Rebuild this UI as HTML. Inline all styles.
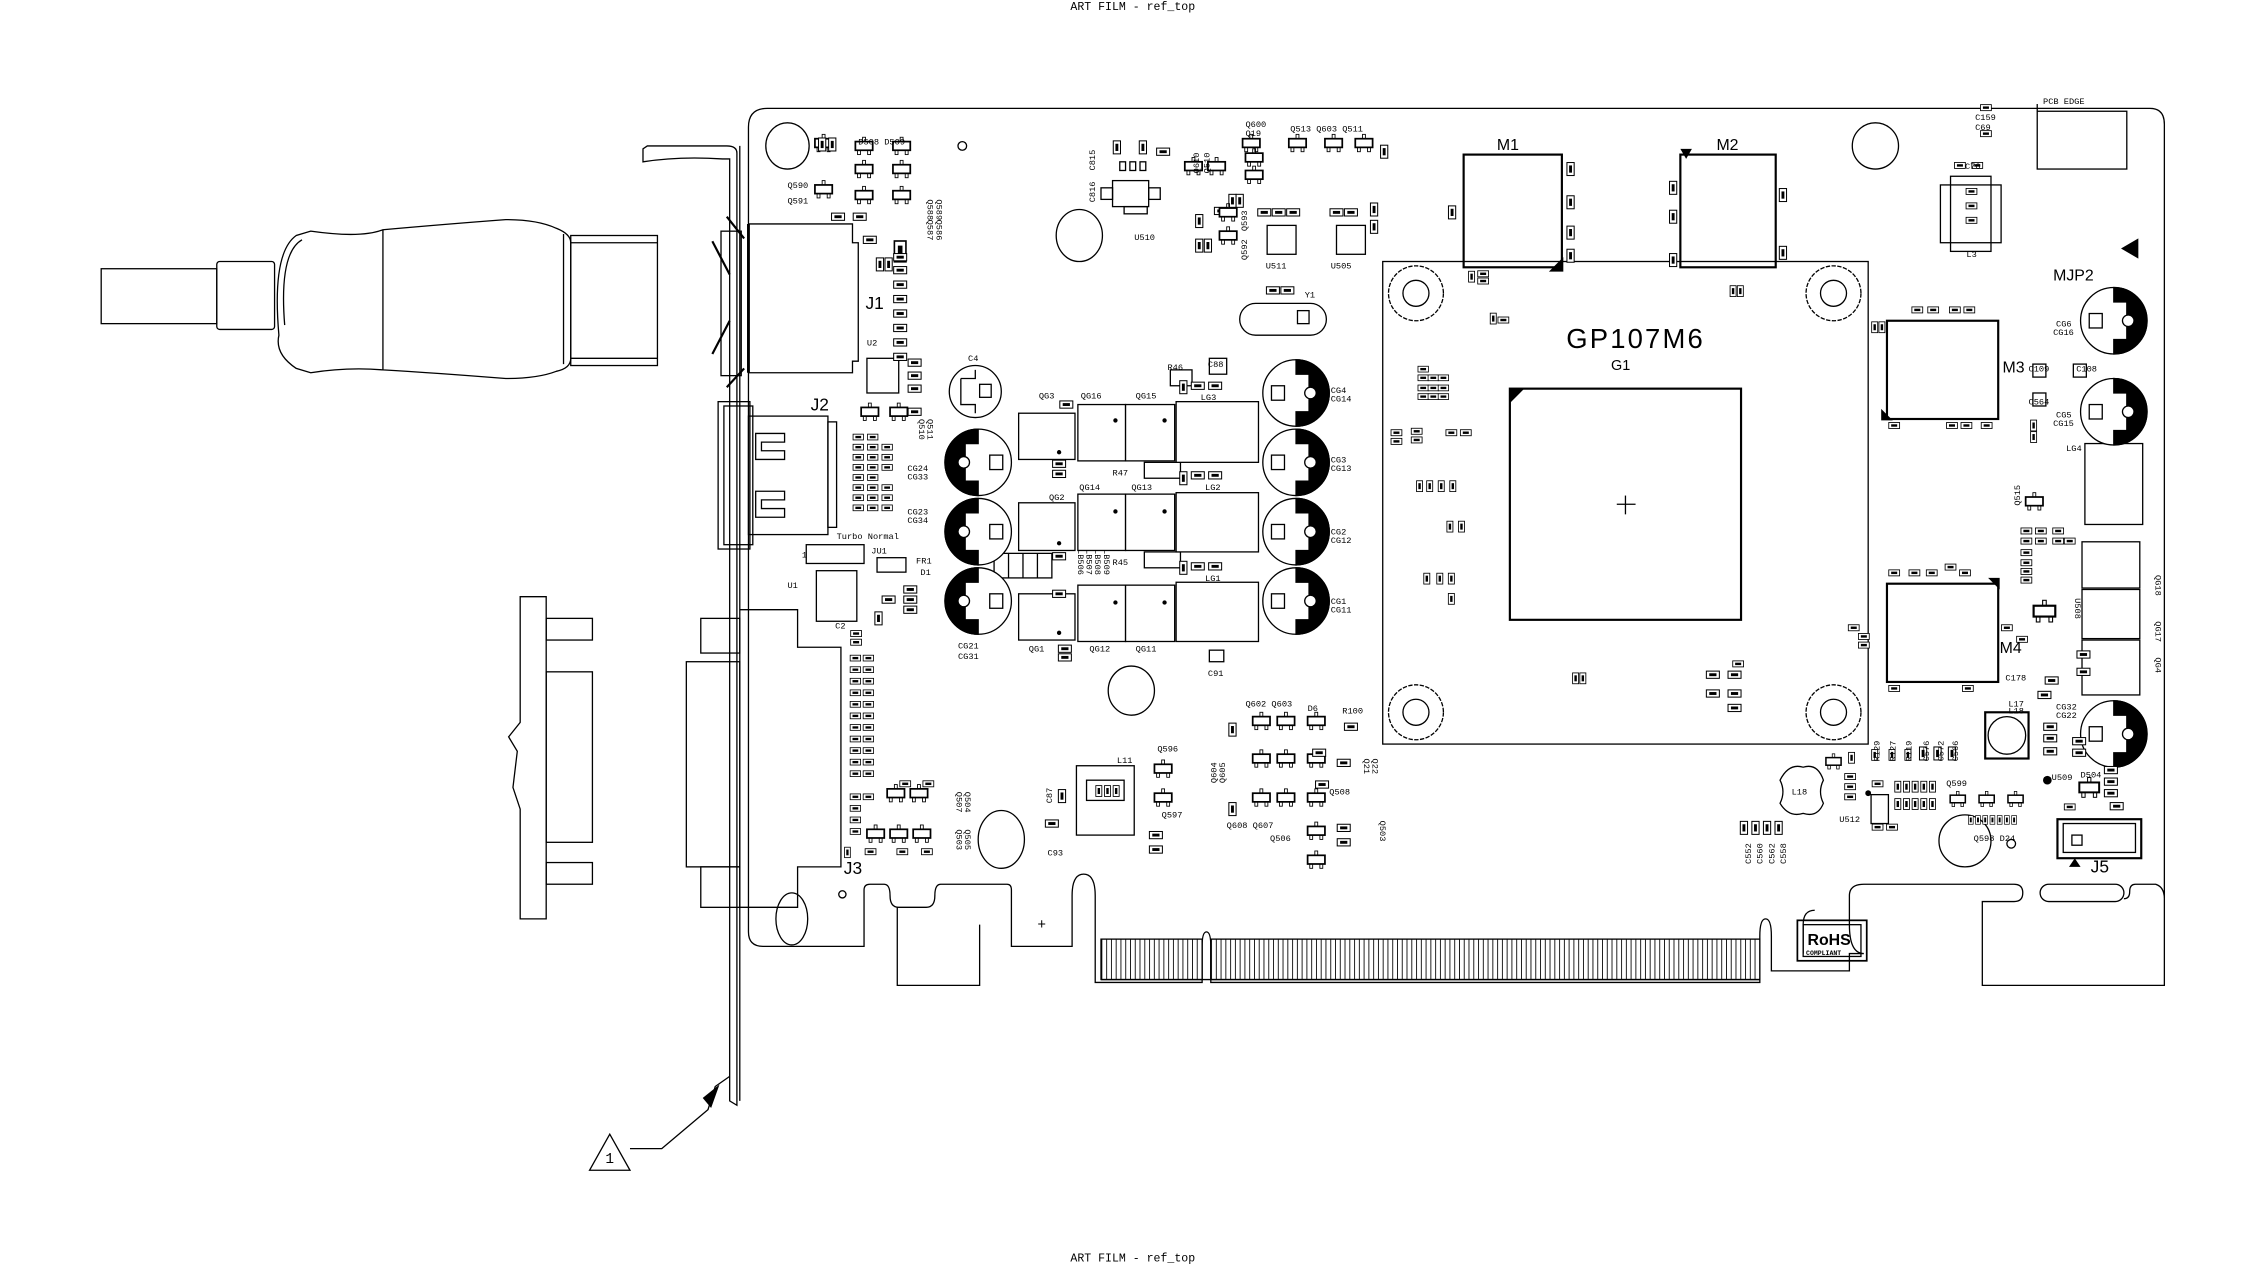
<!DOCTYPE html>
<html><head><meta charset="utf-8"><style>
html,body{margin:0;padding:0;background:#fff;}
svg{display:block}
text{font-family:"Liberation Mono","DejaVu Sans Mono",monospace;fill:#000}
.s{font-family:"Liberation Sans","DejaVu Sans",sans-serif}
</style></head><body>
<svg width="2267" height="1272" viewBox="0 0 1569 880.4" xmlns="http://www.w3.org/2000/svg">
<defs>
<pattern id="fing" x="0" y="0" width="3.3" height="40" patternUnits="userSpaceOnUse"><rect x="0" y="0" width="3.3" height="40" fill="#fff"/><line x1="0.3" y1="0" x2="0.3" y2="40" stroke="#000" stroke-width="0.6"/></pattern>
<symbol id="r" viewBox="0 0 10 6" overflow="visible"><rect x="0.5" y="0.5" width="9" height="5" fill="#fff" stroke="#000" stroke-width="0.7"/><rect x="2.5" y="2" width="5" height="2" fill="#000"/></symbol>
<symbol id="rv" viewBox="0 0 6 10" overflow="visible"><rect x="0.5" y="0.5" width="5" height="9" fill="#fff" stroke="#000" stroke-width="0.7"/><rect x="2" y="2.5" width="2" height="5" fill="#000"/></symbol>
<symbol id="q" viewBox="0 0 16 14" overflow="visible"><rect x="2" y="4" width="12" height="6" fill="#fff" stroke="#000" stroke-width="1.2"/><rect x="3.5" y="10" width="2" height="3" fill="none" stroke="#000" stroke-width="0.6"/><rect x="10.5" y="10" width="2" height="3" fill="none" stroke="#000" stroke-width="0.6"/><rect x="7" y="1" width="2" height="3" fill="none" stroke="#000" stroke-width="0.6"/></symbol>
</defs>
<rect width="1569" height="881" fill="#fff"/>
<g fill="none" stroke="#000" stroke-width="0.9">

<!-- titles -->
</g>
<text x="784" y="7" font-size="8" text-anchor="middle">ART FILM - ref_top</text>
<text x="784" y="873" font-size="8" text-anchor="middle">ART FILM - ref_top</text>

<g fill="none" stroke="#000" stroke-width="0.9">
<!-- board outline -->
<path d="M518,88 Q518,75 531,75 H1488 Q1498,75 1498,86 V622 Q1498,614 1492,612 H1478 Q1474,612 1474,617 Q1474,622 1470,622 M518,88 V645 Q518,655 528,655 H598 V616 Q598,612 602,612 H612 Q616,612 616,620 Q616,628 622,628 H641 Q647,628 647,620 Q647,612 651,612 H697 Q700,612 700,616 V655 H742 V620 Q742,605 750,605 Q758,605 758,620 V680 H832 V655 Q832,645 835,645 Q838,645 838,655 V680 H1218 V648 Q1218,636 1222,636 Q1226,636 1226,648 V672 H1280 V660 H1290 Q1280,660 1280,640 V620 Q1280,612 1290,612 H1394 Q1400,612 1400,618 Q1400,624 1394,624 H1372 V682 H1498 V622"/>
<path d="M621,628 V682 H678 V640"/>
<rect x="1412" y="612" width="58" height="12" rx="6"/>
<path d="M1248,660 V640 Q1248,630 1256,630"/>
<rect x="762" y="650" width="70" height="28" fill="url(#fing)"/>
<rect x="838" y="650" width="380" height="28" fill="url(#fing)"/>
<line x1="762" y1="678" x2="1218" y2="678"/>
<!-- RoHS -->
<rect x="1244" y="637" width="48" height="28" stroke-width="1.2"/>
<rect x="1248" y="640" width="40" height="22"/>
</g>
<text x="1251" y="654" font-size="11" class="s" font-weight="bold">RoHS</text>
<text x="1250" y="661" font-size="4.5" font-weight="bold">COMPLIANT</text>
<text x="718" y="643" font-size="10">+</text>

<g fill="none" stroke="#000" stroke-width="0.9">
<!-- mounting holes -->
<ellipse cx="545" cy="101" rx="15" ry="16"/>
<ellipse cx="1298" cy="101" rx="16" ry="16"/>
<ellipse cx="747" cy="163" rx="16" ry="18"/>
<ellipse cx="783" cy="478" rx="16" ry="17"/>
<ellipse cx="693" cy="581" rx="16" ry="20"/>
<ellipse cx="1360" cy="582" rx="18" ry="18"/>
<ellipse cx="548" cy="636" rx="11" ry="18"/>
<circle cx="666" cy="101" r="3"/>
<circle cx="583" cy="619" r="2.5"/>

<!-- bracket -->
<path d="M445,103 V112 Q470,108 500,110 H505 V762 L510,765 V106 Q510,101 503,101 H448 Z"/>
<line x1="512" y1="101" x2="512" y2="762"/>
<!-- triangle mark -->
<path d="M408,810 L422,785 L436,810 Z"/>
<path d="M436,795 H458 L490,768 L495,752 L505,745"/>
<path d="M487,760 L497,752 L492,766 Z" fill="#000"/>
</g>
<text x="419" y="805" font-size="10">1</text>

<g fill="none" stroke="#000" stroke-width="0.9">
<!-- DVI cable plug -->
<rect x="70" y="186" width="80" height="38"/>
<rect x="150" y="181" width="40" height="47" rx="2"/>
<path d="M193,232 Q188,175 205,163 L215,160 Q250,165 265,159 Q310,155 350,152 Q372,152 385,158 Q395,162 395,168 V248 Q395,255 385,257 Q372,262 350,262 Q300,258 265,256 Q240,254 215,258 L205,255 Q190,245 193,232 Z"/>
<path d="M197,225 Q193,175 209,166"/>
<line x1="265" y1="159" x2="265" y2="256"/>
<line x1="390" y1="162" x2="390" y2="252"/>
<rect x="395" y="163" width="60" height="90"/>
<line x1="395" y1="168" x2="455" y2="168"/>
<line x1="395" y1="248" x2="455" y2="248"/>

<!-- J1 connector -->
<path d="M503,150 L515,165 M503,268 L515,255" stroke-width="1.5"/>
<rect x="499" y="160" width="14" height="100"/>
<path d="M493,167 L505,190 M493,245 L505,222" stroke-width="1.5"/>
<path d="M518,155 H590 V168 H594 V250 H590 V258 H518"/>
<line x1="518" y1="155" x2="518" y2="258" stroke-width="2"/>
<!-- J2 -->
<rect x="497" y="278" width="22" height="102"/>
<rect x="501" y="281" width="20" height="96"/>
<rect x="518" y="288" width="55" height="82"/>
<rect x="573" y="292" width="6" height="73"/>
<path d="M523,300 H543 V306 H527 V312 H543 V318 H523 Z"/>
<path d="M523,340 H543 V346 H527 V352 H543 V358 H523 Z"/>
<!-- J3 dvi -->
<path d="M512,422 H552 V448 H582 V600 H552 V628 H512"/>
<rect x="485" y="428" width="27" height="24"/>
<rect x="475" y="458" width="37" height="142"/>
<rect x="485" y="600" width="27" height="28"/>
<!-- VGA left -->
<path d="M360,413 H378 V636 H360 V560 L355,545 L358,520 L352,510 L360,500 Z"/>
<rect x="378" y="428" width="32" height="15"/>
<rect x="378" y="465" width="32" height="118"/>
<rect x="378" y="597" width="32" height="15"/>

<!-- GPU frame -->
<rect x="957" y="181" width="336" height="334"/>
<rect x="1045" y="269" width="160" height="160" stroke-width="1.5"/>
<line x1="1119" y1="349" x2="1132" y2="349"/><line x1="1125" y1="343" x2="1125" y2="356"/>
<circle cx="980" cy="203" r="19" stroke-dasharray="3,1"/><circle cx="980" cy="203" r="9"/>
<circle cx="1269" cy="203" r="19" stroke-dasharray="3,1"/><circle cx="1269" cy="203" r="9"/>
<circle cx="980" cy="493" r="19" stroke-dasharray="3,1"/><circle cx="980" cy="493" r="9"/>
<circle cx="1269" cy="493" r="19" stroke-dasharray="3,1"/><circle cx="1269" cy="493" r="9"/>
<!-- memory -->
<rect x="1013" y="107" width="68" height="78" stroke-width="1.5"/>
<rect x="1163" y="107" width="66" height="78" stroke-width="1.5"/>
<rect x="1306" y="222" width="77" height="68" stroke-width="1.5"/>
<rect x="1306" y="404" width="77" height="68" stroke-width="1.5"/>
<rect x="1410" y="77" width="62" height="40"/>
<line x1="1410" y1="77" x2="1410" y2="72"/>
<rect x="1343" y="128" width="42" height="40"/>
<rect x="1350" y="122" width="28" height="52"/>
<!-- right side boxes -->
<rect x="1443" y="307" width="40" height="56"/>
<rect x="1441" y="375" width="40" height="32"/>
<rect x="1441" y="408" width="40" height="34"/>
<rect x="1441" y="443" width="40" height="38"/>
<!-- Y1 -->
<rect x="858" y="210" width="60" height="22" rx="11"/>
<rect x="898" y="215" width="8" height="9"/>
<!-- U510 -->
<rect x="770" y="125" width="25" height="18"/>
<rect x="762" y="130" width="8" height="8"/><rect x="795" y="130" width="8" height="8"/>
<rect x="775" y="112" width="4" height="6"/><rect x="782" y="112" width="4" height="6"/><rect x="789" y="112" width="4" height="6"/>
<rect x="778" y="143" width="16" height="5"/>
<!-- U511 U505 -->
<rect x="877" y="156" width="20" height="20"/><rect x="925" y="156" width="20" height="20"/>
<!-- U2 -->
<rect x="600" y="248" width="22" height="24"/>
<!-- L11 -->
<rect x="745" y="530" width="40" height="48"/>
<rect x="752" y="540" width="26" height="14"/>
<!-- L18 -->
<path d="M1232,540 Q1238,528 1248,531 Q1258,528 1262,540 Q1258,548 1262,556 Q1258,566 1248,563 Q1238,566 1232,556 Q1236,548 1232,540 Z"/>
<!-- L17 -->
<rect x="1374" y="493" width="30" height="32" stroke-width="1.5"/>
<circle cx="1389" cy="509" r="13"/>
<!-- J5 -->
<rect x="1424" y="567" width="58" height="27" stroke-width="1.5"/>
<rect x="1428" y="570" width="50" height="20"/>
<rect x="1434" y="578" width="7" height="7"/>
<circle cx="1392" cy="584" r="3"/>
<!-- JU1 -->
<rect x="558" y="377" width="40" height="13"/>
<rect x="607" y="386" width="20" height="10"/>
<!-- U1 -->
<rect x="565" y="395" width="28" height="35"/>
<!-- LB row -->
<rect x="688" y="383" width="40" height="17"/>
<line x1="698" y1="383" x2="698" y2="400"/><line x1="708" y1="383" x2="708" y2="400"/><line x1="718" y1="383" x2="718" y2="400"/>
<!-- C91 etc small -->
<rect x="837" y="450" width="10" height="8"/>
<rect x="837" y="248" width="12" height="11"/>
<rect x="810" y="256" width="15" height="11"/>
<rect x="792" y="320" width="25" height="11"/>
<rect x="792" y="382" width="25" height="11"/>
<rect x="1407" y="252" width="9" height="9"/>
<rect x="1407" y="272" width="9" height="9"/>
<rect x="1435" y="252" width="9" height="9"/>
</g>

<!-- VRM -->
<g fill="#fff" stroke="#000" stroke-width="0.9">
<rect x="705" y="286" width="39" height="32"/>
<rect x="746" y="280" width="33" height="39"/><rect x="779" y="280" width="34" height="39"/>
<rect x="814" y="278" width="57" height="42"/>
<rect x="705" y="348" width="39" height="33"/>
<rect x="746" y="342" width="33" height="39"/><rect x="779" y="342" width="34" height="39"/>
<rect x="814" y="341" width="57" height="41"/>
<rect x="705" y="411" width="39" height="32"/>
<rect x="746" y="405" width="33" height="39"/><rect x="779" y="405" width="34" height="39"/>
<rect x="814" y="403" width="57" height="41"/>
</g>
<g fill="#000">
<circle cx="733" cy="313" r="1.5"/><circle cx="772" cy="291" r="1.5"/><circle cx="806" cy="291" r="1.5"/>
<circle cx="733" cy="376" r="1.5"/><circle cx="772" cy="354" r="1.5"/><circle cx="806" cy="354" r="1.5"/>
<circle cx="733" cy="438" r="1.5"/><circle cx="772" cy="417" r="1.5"/><circle cx="806" cy="417" r="1.5"/>
<path d="M1045,269 h10 l-10,10 z"/>
<path d="M1072,188 l10,-10 v10 z"/>
<path d="M1163,103 h8 l-4,7 z"/>
<path d="M1302,283 l8,8 h-8 z"/>
<path d="M1384,400 l-8,0 8,8 z"/>
<path d="M1468,172 l12,-7 v14 z"/>
<path d="M1432,600 l4,-6 4,6 z"/>
</g>

<!-- electrolytic caps -->
<g stroke="#000" stroke-width="0.9">
<circle cx="675" cy="271" r="18" fill="#fff"/>
<path d="M665,262 H675 V256 M665,262 V280 H675 V286" fill="none"/>
<rect x="678" y="266" width="8" height="9" fill="none"/>
</g>
<g id="capL" stroke="#000" stroke-width="0.9">
<circle cx="677" cy="320" r="23" fill="#fff"/>
<path d="M677,297 A23,23 0 0 0 677,343 V333 H668 V307 H677 Z" fill="#000"/>
<rect x="685" y="315" width="9" height="10" fill="#fff"/>
<circle cx="667" cy="320" r="4" fill="#fff"/>
</g>
<use href="#capL" y="48"/>
<use href="#capL" y="96"/>
<g id="capR" stroke="#000" stroke-width="0.9">
<circle cx="897" cy="272" r="23" fill="#fff"/>
<path d="M897,249 A23,23 0 0 1 897,295 V285 H906 V259 H897 Z" fill="#000"/>
<rect x="880" y="267" width="9" height="10" fill="#fff"/>
<circle cx="907" cy="272" r="4" fill="#fff"/>
</g>
<use href="#capR" y="48"/>
<use href="#capR" y="96"/>
<use href="#capR" y="144"/>
<use href="#capR" x="566" y="-50"/>
<use href="#capR" x="566" y="13"/>
<use href="#capR" x="566" y="236"/>

<!-- small parts -->
<g>
<use href="#rv" x="618" y="166" width="10" height="16"/>
<use href="#r" x="618" y="175" width="10" height="6"/><use href="#r" x="618" y="184" width="10" height="6"/>
<use href="#r" x="618" y="194" width="10" height="6"/><use href="#r" x="618" y="204" width="10" height="6"/>
<use href="#r" x="618" y="214" width="10" height="6"/><use href="#r" x="618" y="224" width="10" height="6"/>
<use href="#r" x="618" y="234" width="10" height="6"/><use href="#r" x="618" y="244" width="10" height="6"/>
<use href="#r" x="628" y="248" width="10" height="6"/><use href="#r" x="628" y="257" width="10" height="6"/>
<use href="#r" x="628" y="266" width="10" height="6"/><use href="#r" x="628" y="282" width="10" height="6"/>
<use href="#q" x="590" y="94" width="16" height="14"/><use href="#q" x="616" y="94" width="16" height="14"/>
<use href="#q" x="590" y="110" width="16" height="14"/><use href="#q" x="616" y="110" width="16" height="14"/>
<use href="#q" x="590" y="128" width="16" height="14"/><use href="#q" x="616" y="128" width="16" height="14"/>
<use href="#q" x="562" y="92" width="16" height="14"/><use href="#q" x="562" y="124" width="16" height="14"/>
<use href="#q" x="594" y="278" width="16" height="14"/><use href="#q" x="614" y="278" width="16" height="14"/>
<use href="#q" x="818" y="108" width="16" height="14"/><use href="#q" x="834" y="108" width="16" height="14"/>
<use href="#q" x="860" y="102" width="16" height="14"/><use href="#q" x="858" y="92" width="16" height="14"/>
<use href="#q" x="890" y="92" width="16" height="14"/><use href="#q" x="915" y="92" width="16" height="14"/>
<use href="#q" x="936" y="92" width="16" height="14"/><use href="#q" x="860" y="114" width="16" height="14"/>
<use href="#rv" x="573" y="95" width="6" height="10"/><use href="#rv" x="566" y="95" width="6" height="10"/>
<use href="#r" x="575" y="147" width="10" height="6"/><use href="#r" x="590" y="147" width="10" height="6"/>
<use href="#r" x="597" y="163" width="10" height="6"/>
<use href="#rv" x="606" y="178" width="6" height="10"/><use href="#rv" x="612" y="178" width="6" height="10"/>
<use href="#rv" x="770" y="97" width="6" height="10"/><use href="#rv" x="788" y="97" width="6" height="10"/>
<use href="#r" x="800" y="102" width="10" height="6"/>
<use href="#rv" x="850" y="134" width="6" height="10"/><use href="#rv" x="855" y="134" width="6" height="10"/>
<use href="#r" x="840" y="143" width="10" height="6"/><use href="#r" x="870" y="144" width="10" height="6"/>
<use href="#r" x="880" y="144" width="10" height="6"/><use href="#r" x="890" y="144" width="10" height="6"/>
<use href="#r" x="920" y="144" width="10" height="6"/><use href="#r" x="930" y="144" width="10" height="6"/>
<use href="#rv" x="948" y="140" width="6" height="10"/><use href="#rv" x="948" y="152" width="6" height="10"/>
<use href="#rv" x="955" y="100" width="6" height="10"/>
<use href="#rv" x="827" y="148" width="6" height="10"/><use href="#rv" x="827" y="165" width="6" height="10"/>
<use href="#rv" x="833" y="165" width="6" height="10"/>
<use href="#q" x="842" y="140" width="16" height="14"/><use href="#q" x="842" y="156" width="16" height="14"/>
<use href="#r" x="876" y="198" width="10" height="6"/><use href="#r" x="886" y="198" width="10" height="6"/>
<use href="#r" x="728" y="318" width="10" height="6"/><use href="#r" x="728" y="325" width="10" height="6"/>
<use href="#r" x="728" y="382" width="10" height="6"/><use href="#r" x="728" y="408" width="10" height="6"/>
<use href="#r" x="732" y="446" width="10" height="6"/><use href="#r" x="732" y="452" width="10" height="6"/>
<use href="#r" x="733" y="277" width="10" height="6"/>
<use href="#r" x="824" y="264" width="10" height="6"/><use href="#r" x="836" y="264" width="10" height="6"/>
<use href="#r" x="824" y="326" width="10" height="6"/><use href="#r" x="836" y="326" width="10" height="6"/>
<use href="#r" x="824" y="389" width="10" height="6"/><use href="#r" x="836" y="389" width="10" height="6"/>
<use href="#rv" x="816" y="263" width="6" height="10"/><use href="#rv" x="816" y="326" width="6" height="10"/><use href="#rv" x="816" y="388" width="6" height="10"/>
</g>
<g>
<!-- J2 side column -->
<use href="#r" x="590" y="300" width="8" height="5"/><use href="#r" x="590" y="307" width="8" height="5"/>
<use href="#r" x="590" y="314" width="8" height="5"/><use href="#r" x="590" y="321" width="8" height="5"/>
<use href="#r" x="590" y="328" width="8" height="5"/><use href="#r" x="590" y="335" width="8" height="5"/>
<use href="#r" x="590" y="342" width="8" height="5"/><use href="#r" x="590" y="349" width="8" height="5"/>
<use href="#r" x="600" y="300" width="8" height="5"/><use href="#r" x="600" y="307" width="8" height="5"/>
<use href="#r" x="600" y="314" width="8" height="5"/><use href="#r" x="600" y="321" width="8" height="5"/>
<use href="#r" x="600" y="328" width="8" height="5"/><use href="#r" x="600" y="335" width="8" height="5"/>
<use href="#r" x="600" y="342" width="8" height="5"/><use href="#r" x="600" y="349" width="8" height="5"/>
<use href="#r" x="610" y="307" width="8" height="5"/><use href="#r" x="610" y="314" width="8" height="5"/>
<use href="#r" x="610" y="321" width="8" height="5"/><use href="#r" x="610" y="335" width="8" height="5"/>
<use href="#r" x="610" y="342" width="8" height="5"/><use href="#r" x="610" y="349" width="8" height="5"/>
<!-- J3 column -->
<use href="#r" x="588" y="453" width="8" height="5"/><use href="#r" x="597" y="453" width="8" height="5"/>
<use href="#r" x="588" y="461" width="8" height="5"/><use href="#r" x="597" y="461" width="8" height="5"/>
<use href="#r" x="588" y="469" width="8" height="5"/><use href="#r" x="597" y="469" width="8" height="5"/>
<use href="#r" x="588" y="477" width="8" height="5"/><use href="#r" x="597" y="477" width="8" height="5"/>
<use href="#r" x="588" y="485" width="8" height="5"/><use href="#r" x="597" y="485" width="8" height="5"/>
<use href="#r" x="588" y="493" width="8" height="5"/><use href="#r" x="597" y="493" width="8" height="5"/>
<use href="#r" x="588" y="501" width="8" height="5"/><use href="#r" x="597" y="501" width="8" height="5"/>
<use href="#r" x="588" y="509" width="8" height="5"/><use href="#r" x="597" y="509" width="8" height="5"/>
<use href="#r" x="588" y="517" width="8" height="5"/><use href="#r" x="597" y="517" width="8" height="5"/>
<use href="#r" x="588" y="525" width="8" height="5"/><use href="#r" x="597" y="525" width="8" height="5"/>
<use href="#r" x="588" y="533" width="8" height="5"/><use href="#r" x="597" y="533" width="8" height="5"/>
<use href="#r" x="588" y="549" width="8" height="5"/><use href="#r" x="597" y="549" width="8" height="5"/>
<use href="#r" x="588" y="557" width="8" height="5"/><use href="#r" x="588" y="565" width="8" height="5"/>
<use href="#r" x="588" y="573" width="8" height="5"/>
<use href="#rv" x="584" y="586" width="5" height="8"/><use href="#r" x="598" y="587" width="9" height="5"/>
<use href="#r" x="620" y="587" width="9" height="5"/><use href="#r" x="637" y="587" width="9" height="5"/>
<use href="#q" x="612" y="542" width="16" height="14"/><use href="#q" x="628" y="542" width="16" height="14"/>
<use href="#q" x="598" y="570" width="16" height="14"/><use href="#q" x="614" y="570" width="16" height="14"/><use href="#q" x="630" y="570" width="16" height="14"/>
<use href="#r" x="622" y="540" width="9" height="5"/><use href="#r" x="638" y="540" width="9" height="5"/>
<!-- U1 area -->
<use href="#r" x="625" y="405" width="10" height="6"/><use href="#r" x="625" y="412" width="10" height="6"/>
<use href="#r" x="625" y="419" width="10" height="6"/><use href="#r" x="610" y="412" width="10" height="6"/>
<use href="#rv" x="605" y="423" width="6" height="10"/><use href="#r" x="588" y="436" width="9" height="5"/><use href="#r" x="588" y="442" width="9" height="5"/>
<!-- bottom mid cluster -->
<use href="#q" x="865" y="492" width="16" height="14"/><use href="#q" x="882" y="492" width="16" height="14"/>
<use href="#q" x="903" y="492" width="16" height="14"/><use href="#q" x="865" y="518" width="16" height="14"/>
<use href="#q" x="882" y="518" width="16" height="14"/><use href="#q" x="903" y="518" width="16" height="14"/>
<use href="#q" x="865" y="545" width="16" height="14"/><use href="#q" x="882" y="545" width="16" height="14"/>
<use href="#q" x="903" y="545" width="16" height="14"/><use href="#q" x="903" y="568" width="16" height="14"/>
<use href="#q" x="903" y="588" width="16" height="14"/><use href="#q" x="797" y="525" width="16" height="14"/>
<use href="#q" x="797" y="545" width="16" height="14"/>
<use href="#r" x="930" y="500" width="10" height="6"/><use href="#r" x="925" y="525" width="10" height="6"/>
<use href="#r" x="925" y="570" width="10" height="6"/><use href="#r" x="925" y="580" width="10" height="6"/>
<use href="#rv" x="850" y="500" width="6" height="10"/><use href="#rv" x="850" y="555" width="6" height="10"/>
<use href="#r" x="908" y="518" width="10" height="6"/><use href="#r" x="910" y="540" width="10" height="6"/>
<use href="#r" x="795" y="575" width="10" height="6"/><use href="#r" x="795" y="585" width="10" height="6"/>
<use href="#r" x="723" y="567" width="10" height="6"/><use href="#rv" x="732" y="546" width="6" height="10"/>
<use href="#rv" x="758" y="543" width="5" height="9"/><use href="#rv" x="764" y="543" width="5" height="9"/><use href="#rv" x="770" y="543" width="5" height="9"/>
<!-- GPU area parts -->
<use href="#rv" x="1002" y="142" width="6" height="10"/><use href="#rv" x="1084" y="112" width="6" height="10"/>
<use href="#rv" x="1084" y="135" width="6" height="10"/><use href="#rv" x="1084" y="156" width="6" height="10"/>
<use href="#rv" x="1084" y="172" width="6" height="10"/><use href="#rv" x="1155" y="125" width="6" height="10"/>
<use href="#rv" x="1155" y="145" width="6" height="10"/><use href="#rv" x="1155" y="175" width="6" height="10"/>
<use href="#rv" x="1231" y="130" width="6" height="10"/><use href="#rv" x="1231" y="170" width="6" height="10"/>
<use href="#rv" x="1016" y="187" width="5" height="9"/><use href="#r" x="1022" y="187" width="9" height="5"/>
<use href="#r" x="1022" y="192" width="9" height="5"/><use href="#rv" x="1197" y="197" width="5" height="9"/>
<use href="#rv" x="1202" y="197" width="5" height="9"/><use href="#rv" x="1031" y="216" width="5" height="9"/>
<use href="#r" x="1036" y="219" width="9" height="5"/>
<use href="#r" x="962" y="297" width="9" height="5"/><use href="#r" x="962" y="303" width="9" height="5"/>
<use href="#r" x="976" y="296" width="9" height="5"/><use href="#r" x="976" y="302" width="9" height="5"/>
<use href="#r" x="1000" y="297" width="9" height="5"/><use href="#r" x="1010" y="297" width="9" height="5"/>
<use href="#rv" x="980" y="332" width="5" height="9"/><use href="#rv" x="987" y="332" width="5" height="9"/>
<use href="#rv" x="995" y="332" width="5" height="9"/><use href="#rv" x="1003" y="332" width="5" height="9"/>
<use href="#rv" x="1001" y="360" width="5" height="9"/><use href="#rv" x="1009" y="360" width="5" height="9"/>
<use href="#rv" x="985" y="396" width="5" height="9"/><use href="#rv" x="994" y="396" width="5" height="9"/>
<use href="#rv" x="1002" y="396" width="5" height="9"/><use href="#rv" x="1002" y="410" width="5" height="9"/>
<use href="#rv" x="1088" y="465" width="5" height="9"/><use href="#rv" x="1093" y="465" width="5" height="9"/>
<use href="#r" x="1198" y="457" width="10" height="5"/><use href="#r" x="1180" y="464" width="11" height="6"/>
<use href="#r" x="1195" y="464" width="11" height="6"/><use href="#r" x="1180" y="477" width="11" height="6"/>
<use href="#r" x="1195" y="477" width="11" height="6"/><use href="#r" x="1195" y="487" width="11" height="6"/>
<use href="#r" x="1278" y="432" width="10" height="5"/><use href="#r" x="1285" y="438" width="10" height="5"/>
<use href="#r" x="1285" y="444" width="10" height="5"/>
<!-- GPU misc grid -->
<use href="#r" x="981" y="253" width="8" height="5"/><use href="#r" x="981" y="259" width="8" height="5"/>
<use href="#r" x="988" y="259" width="8" height="5"/><use href="#r" x="995" y="259" width="8" height="5"/>
<use href="#r" x="981" y="266" width="8" height="5"/><use href="#r" x="988" y="266" width="8" height="5"/>
<use href="#r" x="995" y="266" width="8" height="5"/><use href="#r" x="981" y="272" width="8" height="5"/>
<use href="#r" x="988" y="272" width="8" height="5"/><use href="#r" x="995" y="272" width="8" height="5"/>
<!-- M3/M4 parts -->
<use href="#r" x="1322" y="212" width="10" height="5"/><use href="#r" x="1333" y="212" width="10" height="5"/>
<use href="#r" x="1348" y="212" width="10" height="5"/><use href="#r" x="1358" y="212" width="10" height="5"/>
<use href="#rv" x="1295" y="222" width="5" height="9"/><use href="#rv" x="1300" y="222" width="5" height="9"/>
<use href="#r" x="1306" y="292" width="10" height="5"/><use href="#r" x="1346" y="292" width="10" height="5"/>
<use href="#r" x="1356" y="292" width="10" height="5"/><use href="#r" x="1370" y="292" width="10" height="5"/>
<use href="#r" x="1306" y="394" width="10" height="5"/><use href="#r" x="1320" y="394" width="10" height="5"/>
<use href="#r" x="1332" y="394" width="10" height="5"/><use href="#r" x="1345" y="390" width="10" height="5"/>
<use href="#r" x="1355" y="394" width="10" height="5"/><use href="#r" x="1384" y="432" width="10" height="5"/>
<use href="#r" x="1306" y="474" width="10" height="5"/><use href="#r" x="1357" y="474" width="10" height="5"/>
<use href="#q" x="1400" y="340" width="16" height="14"/><use href="#q" x="1405" y="414" width="20" height="18"/>
<use href="#r" x="1398" y="365" width="9" height="5"/><use href="#r" x="1408" y="365" width="9" height="5"/>
<use href="#r" x="1398" y="372" width="9" height="5"/><use href="#r" x="1408" y="372" width="9" height="5"/>
<use href="#r" x="1398" y="380" width="9" height="5"/><use href="#r" x="1398" y="387" width="9" height="5"/>
<use href="#r" x="1420" y="365" width="9" height="5"/><use href="#r" x="1420" y="372" width="9" height="5"/>
<use href="#r" x="1428" y="372" width="9" height="5"/><use href="#r" x="1398" y="393" width="9" height="5"/>
<use href="#r" x="1398" y="399" width="9" height="5"/><use href="#r" x="1395" y="440" width="9" height="5"/>
<use href="#r" x="1415" y="468" width="10" height="6"/><use href="#r" x="1410" y="478" width="10" height="6"/>
<use href="#r" x="1437" y="450" width="10" height="6"/><use href="#r" x="1437" y="462" width="10" height="6"/>
<use href="#r" x="1414" y="500" width="10" height="6"/><use href="#r" x="1414" y="508" width="10" height="6"/>
<use href="#r" x="1414" y="517" width="10" height="6"/><use href="#r" x="1434" y="510" width="10" height="6"/>
<use href="#r" x="1434" y="518" width="10" height="6"/>
<use href="#rv" x="1405" y="290" width="5" height="9"/><use href="#rv" x="1405" y="298" width="5" height="9"/>
<use href="#r" x="1370" y="72" width="9" height="5"/><use href="#r" x="1370" y="90" width="9" height="5"/>
<use href="#r" x="1352" y="112" width="9" height="5"/><use href="#r" x="1364" y="112" width="9" height="5"/>
<use href="#r" x="1360" y="130" width="9" height="5"/><use href="#r" x="1360" y="140" width="9" height="5"/>
<use href="#r" x="1360" y="150" width="9" height="5"/>
<!-- bottom right cluster -->
<use href="#rv" x="1204" y="567" width="6" height="12"/><use href="#rv" x="1212" y="567" width="6" height="12"/>
<use href="#rv" x="1220" y="567" width="6" height="12"/><use href="#rv" x="1228" y="567" width="6" height="12"/>
<use href="#rv" x="1279" y="520" width="5" height="9"/><use href="#rv" x="1295" y="518" width="5" height="9"/>
<use href="#rv" x="1307" y="518" width="5" height="9"/><use href="#rv" x="1318" y="518" width="5" height="9"/>
<use href="#rv" x="1328" y="516" width="6" height="11"/><use href="#rv" x="1338" y="516" width="6" height="11"/>
<use href="#rv" x="1348" y="516" width="6" height="11"/>
<use href="#q" x="1262" y="520" width="14" height="14"/>
<use href="#r" x="1276" y="535" width="9" height="5"/><use href="#r" x="1276" y="542" width="9" height="5"/>
<use href="#r" x="1276" y="549" width="9" height="5"/>
<rect x="1295" y="550" width="12" height="20" fill="#fff" stroke="#000" stroke-width="0.9"/>
<use href="#r" x="1295" y="540" width="9" height="5"/><use href="#r" x="1295" y="570" width="9" height="5"/>
<use href="#r" x="1305" y="570" width="9" height="5"/>
<use href="#rv" x="1311" y="540" width="5" height="9"/><use href="#rv" x="1317" y="540" width="5" height="9"/>
<use href="#rv" x="1323" y="540" width="5" height="9"/><use href="#rv" x="1311" y="552" width="5" height="9"/>
<use href="#rv" x="1317" y="552" width="5" height="9"/><use href="#rv" x="1323" y="552" width="5" height="9"/>
<use href="#rv" x="1329" y="540" width="5" height="9"/><use href="#rv" x="1335" y="540" width="5" height="9"/>
<use href="#rv" x="1329" y="552" width="5" height="9"/><use href="#rv" x="1335" y="552" width="5" height="9"/>
<use href="#q" x="1348" y="545" width="14" height="16"/><use href="#q" x="1368" y="545" width="14" height="16"/>
<use href="#q" x="1388" y="545" width="14" height="16"/>
<use href="#rv" x="1362" y="563" width="4" height="9"/><use href="#rv" x="1367" y="563" width="4" height="9"/>
<use href="#rv" x="1372" y="563" width="4" height="9"/><use href="#rv" x="1377" y="563" width="4" height="9"/>
<use href="#rv" x="1382" y="563" width="4" height="9"/><use href="#rv" x="1387" y="563" width="4" height="9"/>
<use href="#rv" x="1392" y="563" width="4" height="9"/>
<use href="#q" x="1436" y="537" width="20" height="16"/>
<use href="#r" x="1428" y="556" width="9" height="5"/><use href="#r" x="1456" y="530" width="10" height="6"/>
<use href="#r" x="1456" y="538" width="10" height="6"/><use href="#r" x="1456" y="546" width="10" height="6"/>
<use href="#r" x="1460" y="555" width="10" height="6"/>
</g>
<circle cx="1417" cy="540" r="3" fill="#000"/>
<circle cx="1293" cy="549" r="2" fill="#000"/>

<!-- labels -->
<g font-size="13" class="s">
<text x="1084" y="241" font-size="19" letter-spacing="1.5" class="s">GP107M6</text>
</g>
<text x="1115" y="256" font-size="10" class="s">G1</text>
<text x="1036" y="104" font-size="11" class="s">M1</text>
<text x="1188" y="104" font-size="11" class="s">M2</text>
<text x="1386" y="258" font-size="11" class="s">M3</text>
<text x="1384" y="452" font-size="11" class="s">M4</text>
<text x="1421" y="194" font-size="11" class="s">MJP2</text>
<text x="599" y="214" font-size="12" class="s">J1</text>
<text x="561" y="284" font-size="12" class="s">J2</text>
<text x="584" y="605" font-size="12" class="s">J3</text>
<text x="1447" y="604" font-size="12" class="s">J5</text>
<g font-size="6">
<text x="1414" y="72">PCB EDGE</text>
<text x="1367" y="83">C159</text><text x="1367" y="90">C69</text><text x="1360" y="117">C70</text><text x="1361" y="178">L3</text>
<text x="594" y="100">D508 D509</text>
<text x="545" y="130">Q590</text><text x="545" y="141">Q591</text>
<text x="862" y="88">Q600</text><text x="862" y="94">Q19</text>
<text x="893" y="91">Q513 Q603 Q511</text>
<text x="785" y="166">U510</text><text x="876" y="186">U511</text><text x="921" y="186">U505</text>
<text x="903" y="206">Y1</text>
<text x="670" y="250">C4</text>
<text x="719" y="276">QG3</text><text x="748" y="276">QG16</text><text x="786" y="276">QG15</text>
<text x="808" y="256">R46</text><text x="836" y="254">C88</text><text x="831" y="277">LG3</text>
<text x="770" y="329">R47</text><text x="747" y="339">QG14</text><text x="783" y="339">QG13</text><text x="834" y="339">LG2</text>
<text x="726" y="346">QG2</text><text x="770" y="391">R45</text><text x="834" y="402">LG1</text>
<text x="712" y="451">QG1</text><text x="754" y="451">QG12</text><text x="786" y="451">QG11</text>
<text x="836" y="468">C91</text>
<text x="921" y="272">CG4</text><text x="921" y="278">CG14</text>
<text x="921" y="320">CG3</text><text x="921" y="326">CG13</text>
<text x="921" y="370">CG2</text><text x="921" y="376">CG12</text>
<text x="921" y="418">CG1</text><text x="921" y="424">CG11</text>
<text x="628" y="326">CG24</text><text x="628" y="332">CG33</text>
<text x="628" y="356">CG23</text><text x="628" y="362">CG34</text>
<text x="663" y="449">CG21</text><text x="663" y="456">CG31</text>
<text x="579" y="373">Turbo Normal</text><text x="603" y="383">JU1</text>
<text x="555" y="386">1</text><text x="634" y="390">FR1</text><text x="637" y="398">D1</text>
<text x="545" y="407">U1</text><text x="578" y="435">C2</text>
<text x="600" y="239">U2</text>
<text x="862" y="489">Q602 Q603</text><text x="905" y="492">D6</text><text x="929" y="494">R100</text>
<text x="801" y="520">Q596</text><text x="804" y="566">Q597</text><text x="773" y="528">L11</text>
<text x="725" y="592">C93</text><text x="849" y="573">Q608 Q607</text><text x="879" y="582">Q506</text>
<text x="920" y="550">Q508</text>
<text x="1240" y="550">L18</text><text x="1273" y="569">U512</text>
<text x="1347" y="544">Q599</text><text x="1366" y="582">Q598 D24</text>
<text x="1420" y="540">U509</text><text x="1440" y="538">D504</text>
<text x="1390" y="489">L17</text><text x="1390" y="494">L18</text>
<text x="1423" y="491">CG32</text><text x="1423" y="497">CG22</text>
<text x="1388" y="471">C178</text>
<text x="1404" y="257">C109</text><text x="1437" y="257">C108</text>
<text x="1404" y="280">C564</text>
<text x="1423" y="226">CG6</text><text x="1421" y="232">CG16</text>
<text x="1423" y="289">CG5</text><text x="1421" y="295">CG15</text>
<text x="1430" y="312">LG4</text>
</g>
<g font-size="6">
<text transform="translate(1301,527) rotate(-90)">R129</text>
<text transform="translate(1312,527) rotate(-90)">R127</text>
<text transform="translate(1323,527) rotate(-90)">R119</text>
<text transform="translate(1335,527) rotate(-90)">C576</text>
<text transform="translate(1345,527) rotate(-90)">C572</text>
<text transform="translate(1355,527) rotate(-90)">C566</text>
<text transform="translate(1212,598) rotate(-90)">C552</text>
<text transform="translate(1220,598) rotate(-90)">C560</text>
<text transform="translate(1228,598) rotate(-90)">C562</text>
<text transform="translate(1236,598) rotate(-90)">C558</text>
<text transform="translate(1492,398) rotate(90)">QG18</text>
<text transform="translate(1492,430) rotate(90)">QG17</text>
<text transform="translate(1492,455) rotate(90)">QG4</text>
<text transform="translate(1436,414) rotate(90)">U508</text>
<text transform="translate(1398,350) rotate(-90)">Q515</text>
<text transform="translate(758,118) rotate(-90)">C815</text>
<text transform="translate(758,140) rotate(-90)">C816</text>
<text transform="translate(830,120) rotate(-90)">Q610</text>
<text transform="translate(837,120) rotate(-90)">Q510</text>
<text transform="translate(863,160) rotate(-90)">Q593</text>
<text transform="translate(863,180) rotate(-90)">Q592</text>
<text transform="translate(642,138) rotate(90)">Q588</text>
<text transform="translate(648,138) rotate(90)">Q589</text>
<text transform="translate(642,152) rotate(90)">Q587</text>
<text transform="translate(648,152) rotate(90)">Q586</text>
<text transform="translate(636,290) rotate(90)">Q510</text>
<text transform="translate(642,290) rotate(90)">Q511</text>
<text transform="translate(746,380) rotate(90)">LB506</text>
<text transform="translate(752,380) rotate(90)">LB507</text>
<text transform="translate(758,380) rotate(90)">LB508</text>
<text transform="translate(764,380) rotate(90)">LB509</text>
<text transform="translate(662,548) rotate(90)">Q507</text>
<text transform="translate(668,548) rotate(90)">Q504</text>
<text transform="translate(662,574) rotate(90)">Q503</text>
<text transform="translate(668,574) rotate(90)">Q505</text>
<text transform="translate(728,556) rotate(-90)">C87</text>
<text transform="translate(842,542) rotate(-90)">Q604</text>
<text transform="translate(848,542) rotate(-90)">Q605</text>
<text transform="translate(944,525) rotate(90)">Q21</text>
<text transform="translate(950,525) rotate(90)">Q22</text>
<text transform="translate(955,568) rotate(90)">Q503</text>
<text transform="translate(1444,180) rotate(0)"> </text>
</g>
</svg>
</body></html>
